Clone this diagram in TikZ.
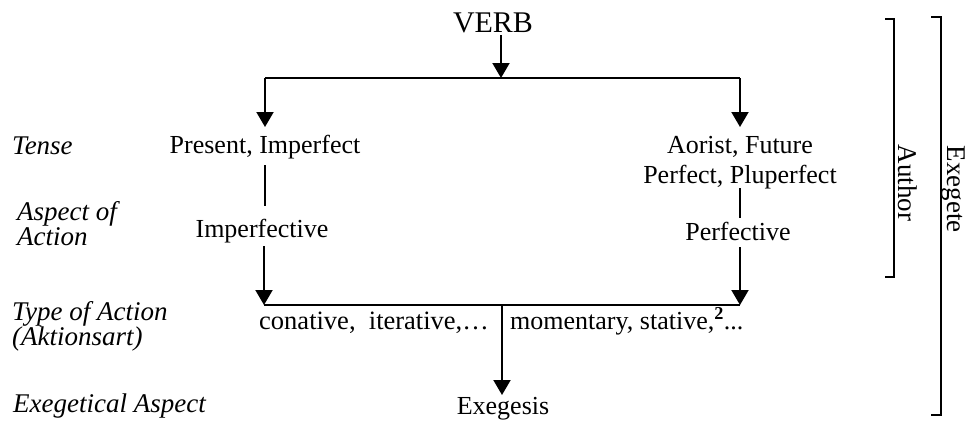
\documentclass[tikz,border=0pt]{standalone}
\usepackage{fontspec}
\setmainfont{Liberation Serif}
\usetikzlibrary{arrows.meta}
\begin{document}
\begin{tikzpicture}[x=1pt,y=-1pt,
  txt/.style={inner sep=0pt, font=\fontsize{26}{30}\selectfont},
  lbl/.style={inner sep=0pt, font=\fontsize{27}{25}\selectfont\itshape, align=left, anchor=base west},
  conn/.style={line width=2pt},
  arr/.style={line width=2pt, -{Triangle[width=17pt,length=15pt]}},
  brk/.style={line width=1.3pt}]
\useasboundingbox (0,0) rectangle (967,421);

% texts
\node[txt, anchor=base, font=\fontsize{30}{30}\selectfont] (verb) at (493,32) {VERB};
\node[txt, anchor=base] (pres) at (265,153) {Present, Imperfect};
\node[txt, anchor=base] (impf) at (262,237) {Imperfective};
\node[txt, anchor=base, align=center] (aor) at (740,183) {Aorist, Future\\Perfect, Pluperfect};
\node[txt, anchor=base] (perf) at (738,240) {Perfective};
\node[txt, anchor=base east, font=\fontsize{26.5}{30}\selectfont] (conat) at (489,329) {conative,\ \ iterative,\ldots};
\node[txt, anchor=base west] (moment) at (510,329) {momentary, stative,\textsuperscript{\textbf{2}}...};
\node[txt, anchor=base] (exegesis) at (503,414) {Exegesis};

% left labels
\node[lbl] (tense) at (12,154) {Tense};
\node[lbl] (aspect) at (17,245) {Aspect of\\Action};
\node[lbl] (type) at (12,345) {Type of Action\\(Aktionsart)};
\node[lbl] (exeg) at (13,412) {Exegetical Aspect};

% junction coordinates
\coordinate (vtop) at (501,35);
\coordinate (vbus) at (501,78);
\coordinate (busL) at (265,78);
\coordinate (busR) at (740,78);
\coordinate (presT) at (265,127);
\coordinate (aorT) at (740,127);
\coordinate (presB) at (265,165);
\coordinate (impfT) at (265,206);
\coordinate (impfB) at (264,246);
\coordinate (lowL) at (264,305);
\coordinate (aorB) at (740,188);
\coordinate (perfT) at (740,218);
\coordinate (perfB) at (740,247);
\coordinate (lowR) at (740,305);
\coordinate (lowM) at (502,305);
\coordinate (exT) at (502,395);

% connectors
\draw[arr] (vtop) -- (vbus);
\draw[conn] (busL) -- (busR);
\draw[arr] (busL) -- (presT);
\draw[arr] (busR) -- (aorT);
\draw[conn] (presB) -- (impfT);
\draw[arr] (impfB) -- (lowL);
\draw[conn] (aorB) -- (perfT);
\draw[arr] (perfB) -- (lowR);
\draw[conn] (lowL) -- (lowR);
\draw[arr] (lowM) -- (exT);

% brackets
\draw[brk] (885,19) -- (894,19) -- (894,277) -- (885,277);
\node[txt, rotate=-90, font=\fontsize{27}{30}\selectfont] (author) at (908,183) {Author};
\draw[brk] (931,17) -- (941,17) -- (941,415) -- (931,415);
\node[txt, rotate=-90, font=\fontsize{27}{30}\selectfont] (exegete) at (953,189) {Exegete};
\end{tikzpicture}
\end{document}
